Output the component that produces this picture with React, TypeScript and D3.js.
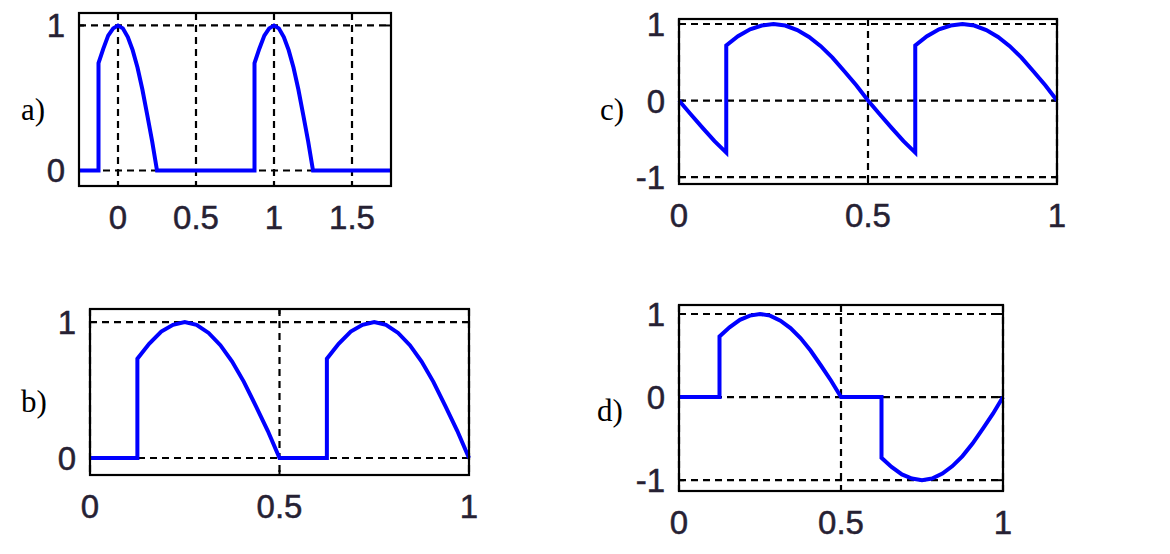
import React from "react";
import * as d3 from "d3";

// ---- data ----
const xA = [-0.25, -0.125, -0.125, -0.094, -0.063, -0.031, 0, 0.031, 0.063, 0.094, 0.125, 0.156, 0.188, 0.219, 0.25,
  0.875, 0.875, 0.906, 0.938, 0.969, 1, 1.031, 1.063, 1.094, 1.125, 1.156, 1.188, 1.219, 1.25, 1.75];
const yA = [0, 0, 0.74, 0.84, 0.93, 0.98, 1, 0.98, 0.92, 0.83, 0.71, 0.56, 0.38, 0.2, 0,
  0, 0.74, 0.84, 0.93, 0.98, 1, 0.98, 0.92, 0.83, 0.71, 0.56, 0.38, 0.2, 0, 0];

const xB = [0, 0.125, 0.125, 0.156, 0.188, 0.219, 0.25, 0.281, 0.313, 0.344, 0.375, 0.406, 0.438, 0.469, 0.5,
  0.625, 0.625, 0.656, 0.688, 0.719, 0.75, 0.781, 0.813, 0.844, 0.875, 0.906, 0.938, 0.969, 1];
const yB = [0, 0, 0.73, 0.84, 0.93, 0.98, 1, 0.98, 0.92, 0.83, 0.71, 0.56, 0.38, 0.2, 0,
  0, 0.73, 0.84, 0.93, 0.98, 1, 0.98, 0.92, 0.83, 0.71, 0.56, 0.38, 0.2, 0];

const xC = [0, 0.031, 0.063, 0.094, 0.125, 0.125, 0.156, 0.188, 0.219, 0.25, 0.281, 0.313, 0.344, 0.375, 0.406, 0.438, 0.469, 0.5,
  0.531, 0.563, 0.594, 0.625, 0.625, 0.656, 0.688, 0.719, 0.75, 0.781, 0.813, 0.844, 0.875, 0.906, 0.938, 0.969, 1];
const yC = [0, -0.18, -0.36, -0.53, -0.68, 0.72, 0.84, 0.93, 0.98, 1, 0.98, 0.92, 0.83, 0.71, 0.56, 0.38, 0.2, 0,
  -0.18, -0.36, -0.53, -0.68, 0.72, 0.84, 0.93, 0.98, 1, 0.98, 0.92, 0.83, 0.71, 0.56, 0.38, 0.2, 0];

const xD = [0, 0.125, 0.125, 0.156, 0.188, 0.219, 0.25, 0.281, 0.313, 0.344, 0.375, 0.406, 0.438, 0.469, 0.5,
  0.625, 0.625, 0.656, 0.688, 0.719, 0.75, 0.781, 0.813, 0.844, 0.875, 0.906, 0.938, 0.969, 1];
const yD = [0, 0, 0.73, 0.84, 0.93, 0.98, 1, 0.98, 0.92, 0.83, 0.71, 0.56, 0.38, 0.2, 0,
  0, -0.73, -0.84, -0.93, -0.98, -1, -0.98, -0.92, -0.83, -0.71, -0.56, -0.38, -0.2, 0];

const xTicksA = [0, 0.5, 1, 1.5];
const xTickLabelsA = ["0", "0.5", "1", "1.5"];
const xTicksUnit = [0, 0.5, 1];
const xTickLabelsUnit = ["0", "0.5", "1"];
const yTicksPos = [0, 1];
const yTickLabelsPos = ["0", "1"];
const yTicksSym = [-1, 0, 1];
const yTickLabelsSym = ["-1", "0", "1"];

const panelNames = ["a)", "b)", "c)", "d)"];

type Panel = {
  name: string; xs: number[]; ys: number[];
  left: number; right: number; top: number; bottom: number;
  xDom: [number, number]; yDom: [number, number];
  xt: number[]; xtl: string[]; yt: number[]; ytl: string[];
  lx: number; ly: number;
};

const panels: Panel[] = [
  { name: panelNames[0], xs: xA, ys: yA, left: 79, right: 391, top: 13, bottom: 186, xDom: [-0.25, 1.75], yDom: [-0.107, 1.086],
    xt: xTicksA, xtl: xTickLabelsA, yt: yTicksPos, ytl: yTickLabelsPos, lx: 21, ly: 120 },
  { name: panelNames[1], xs: xB, ys: yB, left: 90, right: 469, top: 309, bottom: 475, xDom: [0, 1], yDom: [-0.125, 1.096],
    xt: xTicksUnit, xtl: xTickLabelsUnit, yt: yTicksPos, ytl: yTickLabelsPos, lx: 21, ly: 412 },
  { name: panelNames[2], xs: xC, ys: yC, left: 679, right: 1057, top: 19, bottom: 184, xDom: [0, 1], yDom: [-1.09, 1.065],
    xt: xTicksUnit, xtl: xTickLabelsUnit, yt: yTicksSym, ytl: yTickLabelsSym, lx: 600, ly: 120 },
  { name: panelNames[3], xs: xD, ys: yD, left: 679, right: 1003, top: 305, bottom: 491, xDom: [0, 1], yDom: [-1.13, 1.108],
    xt: xTicksUnit, xtl: xTickLabelsUnit, yt: yTicksSym, ytl: yTickLabelsSym, lx: 597, ly: 421 },
];

const tickFont = "'Liberation Sans', Arial, sans-serif";
const tickColor = "#262133";

function PanelView({ p }: { p: Panel }) {
  const x = d3.scaleLinear().domain(p.xDom).range([p.left, p.right]);
  const y = d3.scaleLinear().domain(p.yDom).range([p.bottom, p.top]);
  const pts: [number, number][] = p.xs.map((v, i) => [v, p.ys[i]]);
  const line = d3.line<[number, number]>().x(d => x(d[0])).y(d => y(d[1]));
  const tl = 5;
  return (
    <g>
      {p.xt.map((t, i) => (
        <line key={"gx" + i} x1={x(t)} x2={x(t)} y1={p.top} y2={p.bottom} stroke="#000" strokeWidth={2.2} strokeDasharray="7,5" />
      ))}
      {p.yt.map((t, i) => (
        <line key={"gy" + i} x1={p.left} x2={p.right} y1={y(t)} y2={y(t)} stroke="#000" strokeWidth={2.2} strokeDasharray="7,5" />
      ))}
      {p.xt.map((t, i) => (
        <g key={"tx" + i}>
          <line x1={x(t)} x2={x(t)} y1={p.bottom} y2={p.bottom - tl} stroke="#000" strokeWidth={2} />
          <line x1={x(t)} x2={x(t)} y1={p.top} y2={p.top + tl} stroke="#000" strokeWidth={2} />
        </g>
      ))}
      {p.yt.map((t, i) => (
        <g key={"ty" + i}>
          <line x1={p.left} x2={p.left + tl} y1={y(t)} y2={y(t)} stroke="#000" strokeWidth={2} />
          <line x1={p.right} x2={p.right - tl} y1={y(t)} y2={y(t)} stroke="#000" strokeWidth={2} />
        </g>
      ))}
      <path d={line(pts) || ""} fill="none" stroke="#0000ff" strokeWidth={4} strokeLinejoin="miter" />
      <rect x={p.left} y={p.top} width={p.right - p.left} height={p.bottom - p.top} fill="none" stroke="#000" strokeWidth={2.2} />
      {p.xt.map((t, i) => (
        <text key={"lx" + i} x={x(t)} y={p.bottom + 43} textAnchor="middle" fontFamily={tickFont} fontSize={33}
          fill={tickColor} stroke={tickColor} strokeWidth={0.5}>
          {p.xtl[i]}
        </text>
      ))}
      {p.yt.map((t, i) => (
        <text key={"ly" + i} x={p.left - 14} y={y(t) + 12} textAnchor="end" fontFamily={tickFont} fontSize={33}
          fill={tickColor} stroke={tickColor} strokeWidth={0.5}>
          {p.ytl[i]}
        </text>
      ))}
      <text x={p.lx} y={p.ly} fontFamily="'Liberation Serif', 'Times New Roman', serif" fontSize={31} fill="#000">
        {p.name}
      </text>
    </g>
  );
}

export default function App() {
  return (
    <svg width={1170} height={554} style={{ position: "absolute", left: 0, top: 0, background: "#fff" }}>
      <rect x={0} y={0} width={1170} height={554} fill="#fff" />
      {panels.map((p, i) => <PanelView key={i} p={p} />)}
    </svg>
  );
}
